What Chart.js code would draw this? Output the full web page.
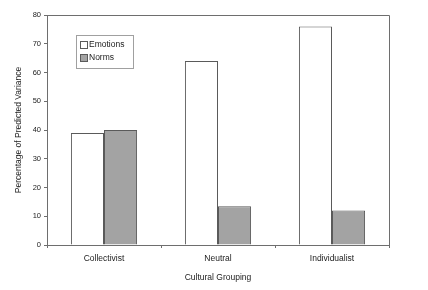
<!DOCTYPE html>
<html>
<head>
<meta charset="utf-8">
<script src="https://cdn.jsdelivr.net/npm/chart.js@4"></script>
<style>
    html, body { margin: 0; padding: 0; background: #fff; }
    canvas { display: block; }
</style>
</head>
<body>
<canvas id="chart" width="428" height="290"></canvas>
<script>
const categories = ['Collectivist', 'Neutral', 'Individualist'];
const emotions = [39, 64, 76];
const norms = [40, 13.5, 12];
const yTicks = [0, 10, 20, 30, 40, 50, 60, 70, 80];

const colors = {
    axis: '#6e6e6e',
    text: '#222',
    barLine: '#5a5a5a',
    norms: '#a3a3a3',
    white: '#ffffff'
};

const font = '"Liberation Sans", Arial, sans-serif';

// box around plot + legend inside the plot area
const framePlugin = {
    id: 'frame',
    afterDraw(chart) {
        const { ctx, chartArea: a } = chart;
        ctx.save();
        ctx.strokeStyle = colors.axis;
        ctx.lineWidth = 1;
        ctx.beginPath();
        ctx.moveTo(a.left, a.top + 0.5);
        ctx.lineTo(a.right + 0.5, a.top + 0.5);
        ctx.lineTo(a.right + 0.5, a.bottom);
        ctx.stroke();

        // legend
        const lx = a.left + 29, ly = a.top + 20;
        ctx.strokeStyle = '#a0a0a0';
        ctx.strokeRect(lx + 0.5, ly + 0.5, 57, 33);
        ctx.font = '8.5px ' + font;
        ctx.textBaseline = 'middle';
        chart.data.datasets.forEach((ds, i) => {
            const y = ly + 10 + i * 13;
            ctx.fillStyle = ds.backgroundColor;
            ctx.fillRect(lx + 4.5, y - 3.5, 7, 7);
            ctx.strokeStyle = ds.borderColor;
            ctx.strokeRect(lx + 4.5, y - 3.5, 7, 7);
            ctx.fillStyle = colors.text;
            ctx.fillText(ds.label, lx + 13, y);
        });
        ctx.restore();
    }
};

new Chart(document.getElementById('chart'), {
    type: 'bar',
    data: {
        labels: categories,
        datasets: [
            {
                label: 'Emotions',
                data: emotions,
                backgroundColor: colors.white,
                borderColor: colors.barLine,
                borderWidth: 1
            },
            {
                label: 'Norms',
                data: norms,
                backgroundColor: colors.norms,
                borderColor: colors.barLine,
                borderWidth: 1
            }
        ]
    },
    options: {
        responsive: false,
        animation: false,
        devicePixelRatio: 1,
        layout: { padding: { left: 0, top: 15, right: 39, bottom: 7 } },
        datasets: { bar: { categoryPercentage: 0.58, barPercentage: 1 } },
        plugins: { legend: { display: false }, tooltip: { enabled: false } },
        scales: {
            x: {
                grid: { display: true, offset: true, drawOnChartArea: false, tickLength: 3, color: colors.axis },
                border: { color: colors.axis },
                ticks: { color: colors.text, font: { family: font, size: 8.5 }, padding: 6 },
                title: {
                    display: true,
                    text: 'Cultural Grouping',
                    color: colors.text,
                    font: { family: font, size: 8.5 },
                    padding: { top: 4, bottom: 0 }
                },
                afterFit(scale) { scale.height = 38; }
            },
            y: {
                min: 0,
                max: 80,
                afterBuildTicks(scale) { scale.ticks = yTicks.map(v => ({ value: v })); },
                grid: { display: true, drawOnChartArea: false, tickLength: 3, color: colors.axis },
                border: { color: colors.axis },
                ticks: { color: colors.text, font: { family: font, size: 7.5 }, padding: 3 },
                title: {
                    display: true,
                    text: 'Percentage of Predicted Variance',
                    color: colors.text,
                    font: { family: font, size: 8.5 },
                    padding: { bottom: 4, top: 14 }
                },
                afterFit(scale) { scale.width = 47; }
            }
        }
    },
    plugins: [framePlugin]
});
</script>
</body>
</html>
